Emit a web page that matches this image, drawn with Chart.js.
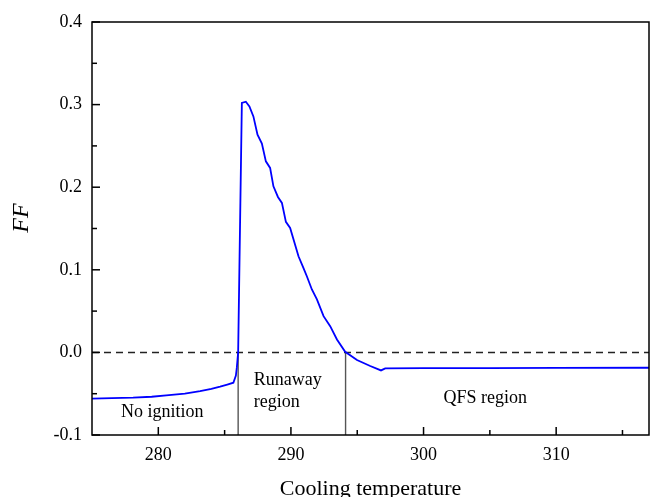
<!DOCTYPE html>
<html>
<head>
<meta charset="utf-8">
<script src="https://cdn.jsdelivr.net/npm/chart.js@4"></script>
<style>
  html, body { margin: 0; padding: 0; background: #fff; }
  #wrap { width: 650px; height: 497px; }
</style>
</head>
<body>
<div id="wrap"><canvas id="ffChart" width="650" height="497"></canvas></div>
<script>
// Data
const temps = [275, 276.5, 278.1, 279.5, 280.6, 282, 283.15, 284, 284.66, 285.2, 285.66, 285.85, 285.92, 286.02,
    286.3, 286.6, 286.87, 287.17, 287.48, 287.81, 288.11, 288.43, 288.68, 289.02, 289.32, 289.62, 289.94,
    290.57, 290.94, 291.2, 291.58, 291.96, 292.46, 292.96, 293.47, 294.09, 294.98, 295.98, 296.79, 297.11,
    300, 305, 310, 317];
const ffValues = [-0.056, -0.0554, -0.0548, -0.0537, -0.052, -0.0498, -0.0468, -0.0442, -0.0415, -0.039, -0.0367, -0.028, -0.0185, 0,
    0.302, 0.3035, 0.2978, 0.2857, 0.2636, 0.2527, 0.2313, 0.2233, 0.2011, 0.1882, 0.181, 0.158, 0.1507,
    0.1164, 0.1024, 0.0922, 0.0762, 0.0641, 0.0439, 0.0318, 0.0157, 0.0008, -0.0093, -0.0165, -0.0218, -0.0193,
    -0.0191, -0.019, -0.0188, -0.0186];
const boundaryTemps = [286.02, 294.12];
const xTicks = [280, 290, 300, 310];
const xMinorTicks = [285, 295, 305, 315];
const yTicks = [-0.1, 0, 0.1, 0.2, 0.3, 0.4];
const yMinorTicks = [-0.05, 0.05, 0.15, 0.25, 0.35];
const xRange = [275, 317];
const yRange = [-0.1, 0.4];

const serif = '"Liberation Serif", "Times New Roman", serif';

// Frame, inward ticks, y title and region labels
const overlay = {
    id: 'overlay',
    afterDraw(chart) {
        const ctx = chart.ctx;
        const a = chart.chartArea;
        const x = chart.scales.x;
        const y = chart.scales.y;
        ctx.save();
        ctx.strokeStyle = '#000';
        ctx.lineWidth = 1.5;
        ctx.strokeRect(a.left, a.top, a.right - a.left, a.bottom - a.top);

        function seg(x1, y1, x2, y2) {
            ctx.beginPath();
            ctx.moveTo(x1, y1);
            ctx.lineTo(x2, y2);
            ctx.stroke();
        }
        xTicks.forEach(v => { const p = x.getPixelForValue(v); seg(p, a.bottom, p, a.bottom - 8); });
        xMinorTicks.forEach(v => { const p = x.getPixelForValue(v); seg(p, a.bottom, p, a.bottom - 5); });
        yTicks.forEach(v => { const p = y.getPixelForValue(v); seg(a.left, p, a.left + 8, p); });
        yMinorTicks.forEach(v => { const p = y.getPixelForValue(v); seg(a.left, p, a.left + 5, p); });

        ctx.fillStyle = '#000';
        ctx.font = '18px ' + serif;
        ctx.textBaseline = 'middle';
        ctx.textAlign = 'center';
        ctx.fillText('No ignition', x.getPixelForValue(280.3), y.getPixelForValue(-0.0725));
        ctx.fillText('QFS region', x.getPixelForValue(304.65), y.getPixelForValue(-0.0555));
        ctx.textAlign = 'left';
        ctx.fillText('Runaway', x.getPixelForValue(287.2), y.getPixelForValue(-0.0335));
        ctx.fillText('region', x.getPixelForValue(287.2), y.getPixelForValue(-0.06));

        // y axis title
        ctx.translate(22, 218);
        ctx.rotate(-Math.PI / 2);
        ctx.textAlign = 'center';
        ctx.font = 'italic 24px ' + serif;
        ctx.fillText('FF', 0, 0);
        ctx.restore();
    }
};

const ctx = document.getElementById('ffChart').getContext('2d');
const chart = new Chart(ctx, {
    type: 'line',
    data: {
        datasets: [{
            label: 'FF',
            data: temps.map((t, i) => ({ x: t, y: ffValues[i] })),
            borderColor: '#0000ff',
            borderWidth: 1.8,
            pointRadius: 0,
            tension: 0,
            order: 1
        }, {
            label: 'zero',
            data: xRange.map(t => ({ x: t, y: 0 })),
            borderColor: '#222',
            borderWidth: 1.5,
            borderDash: [7, 5],
            pointRadius: 0,
            order: 2
        }, {
            label: 'ignition boundary',
            data: [{ x: boundaryTemps[0], y: yRange[0] }, { x: boundaryTemps[0], y: 0 }],
            borderColor: '#555',
            borderWidth: 1.4,
            pointRadius: 0,
            order: 3
        }, {
            label: 'QFS boundary',
            data: [{ x: boundaryTemps[1], y: yRange[0] }, { x: boundaryTemps[1], y: 0 }],
            borderColor: '#555',
            borderWidth: 1.4,
            pointRadius: 0,
            order: 3
        }]
    },
    options: {
        responsive: false,
        animation: false,
        layout: { padding: { top: 22, right: 1, left: 0, bottom: 0 } },
        plugins: {
            legend: { display: false },
            tooltip: { enabled: false }
        },
        scales: {
            x: {
                type: 'linear',
                min: xRange[0],
                max: xRange[1],
                grid: { display: false },
                border: { display: false },
                afterBuildTicks: scale => { scale.ticks = xTicks.map(v => ({ value: v })); },
                afterFit: scale => { scale.height = 62; },
                ticks: {
                    color: '#000',
                    padding: 1,
                    maxRotation: 0,
                    font: { family: serif, size: 18 },
                    callback: v => String(v)
                },
                title: {
                    display: true,
                    text: 'Cooling temperature',
                    color: '#000',
                    font: { family: serif, size: 22, lineHeight: 1 },
                    padding: { top: 0, bottom: -3 }
                }
            },
            y: {
                type: 'linear',
                min: yRange[0],
                max: yRange[1],
                grid: { display: false },
                border: { display: false },
                afterBuildTicks: scale => { scale.ticks = yTicks.map(v => ({ value: v })); },
                afterFit: scale => { scale.width = 92; },
                ticks: {
                    color: '#000',
                    padding: 2,
                    font: { family: serif, size: 18 },
                    callback: v => Number(v).toFixed(1)
                }
            }
        }
    },
    plugins: [overlay]
});
</script>
</body>
</html>
